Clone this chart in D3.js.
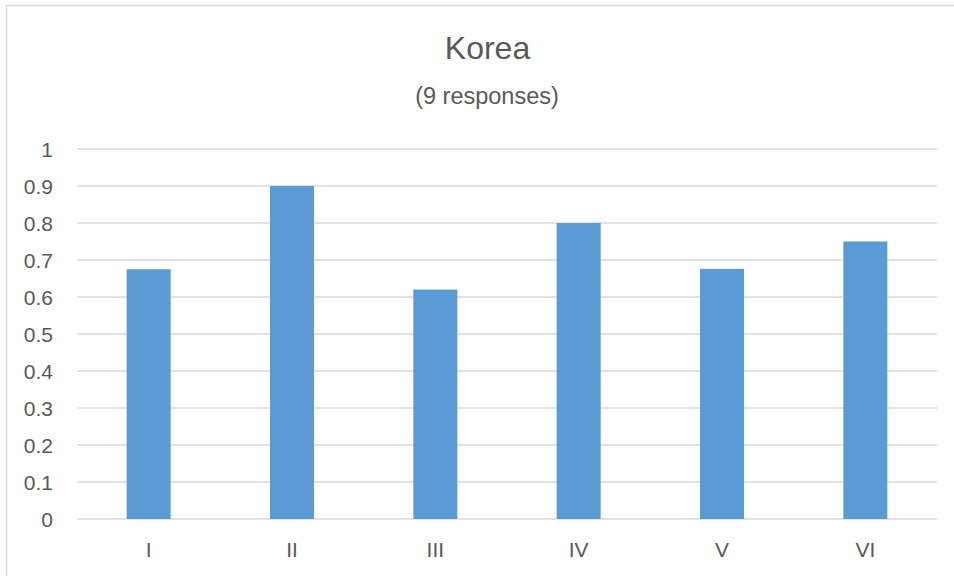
<!DOCTYPE html>
<html>
<head>
<meta charset="utf-8">
<script src="https://cdn.jsdelivr.net/npm/d3@7"></script>
<style>
  html, body { margin: 0; padding: 0; background: #fff; }
  svg { display: block; }
  text { font-family: "Liberation Sans", Arial, sans-serif; fill: #595959; }
</style>
</head>
<body>
<svg id="chart" width="954" height="576"></svg>
<script>
const categories = ["I", "II", "III", "IV", "V", "VI"];
const values = [0.675, 0.9, 0.62, 0.8, 0.676, 0.75];
const yTicks = [0, 0.1, 0.2, 0.3, 0.4, 0.5, 0.6, 0.7, 0.8, 0.9, 1];
const titleText = "Korea";
const subtitleText = "(9 responses)";

const svg = d3.select("#chart");
const plot = { left: 77, right: 937, top: 149, bottom: 519 };

// outer chart border
svg.append("rect")
  .attr("x", 6.5).attr("y", 5.5)
  .attr("width", 980).attr("height", 600)
  .attr("fill", "#fff")
  .attr("stroke", "#d9d9d9").attr("stroke-width", 1.5);

const x = d3.scaleBand()
  .domain(categories)
  .range([plot.left, plot.right])
  .paddingInner(0.693)
  .paddingOuter(0.3465);

const y = d3.scaleLinear()
  .domain([0, 1])
  .range([plot.bottom, plot.top]);

// gridlines
svg.append("g")
  .selectAll("line")
  .data(yTicks)
  .join("line")
  .attr("x1", plot.left).attr("x2", plot.right)
  .attr("y1", d => y(d)).attr("y2", d => y(d))
  .attr("stroke", "#d9d9d9").attr("stroke-width", 1.4);

// y tick labels
svg.append("g")
  .selectAll("text")
  .data(yTicks)
  .join("text")
  .attr("x", 53)
  .attr("y", d => y(d))
  .attr("dy", "0.36em")
  .attr("text-anchor", "end")
  .attr("font-size", 21)
  .text(d => d3.format("~g")(d));

// bars
svg.append("g")
  .selectAll("rect")
  .data(values)
  .join("rect")
  .attr("x", (d, i) => x(categories[i]))
  .attr("width", x.bandwidth())
  .attr("y", d => y(d))
  .attr("height", d => y(0) - y(d))
  .attr("fill", "#5b9bd5");

// x labels
svg.append("g")
  .selectAll("text")
  .data(categories)
  .join("text")
  .attr("x", d => x(d) + x.bandwidth() / 2)
  .attr("y", 557)
  .attr("text-anchor", "middle")
  .attr("font-size", 21)
  .text(d => d);

// title
svg.append("text")
  .attr("x", 487.5).attr("y", 59)
  .attr("text-anchor", "middle")
  .attr("font-size", 32)
  .text(titleText);

svg.append("text")
  .attr("x", 487).attr("y", 104)
  .attr("text-anchor", "middle")
  .attr("font-size", 23.5)
  .text(subtitleText);
</script>
</body>
</html>
